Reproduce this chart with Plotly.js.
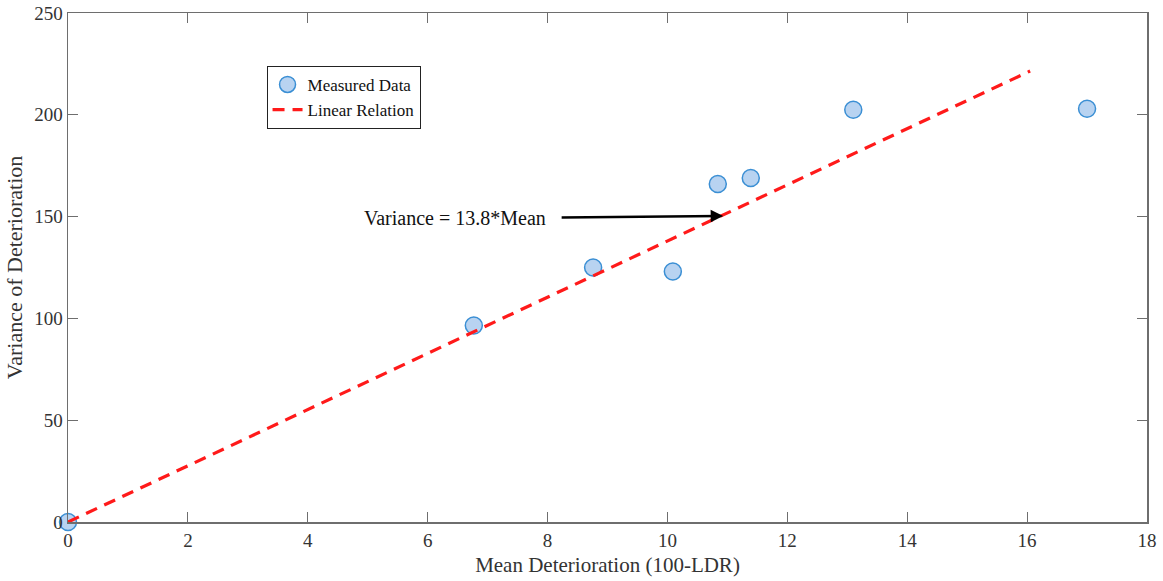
<!DOCTYPE html>
<html>
<head>
<meta charset="utf-8">
<script src="https://cdn.plot.ly/plotly-3.0.1.min.js"></script>
<style>html,body{margin:0;padding:0;background:#fff;}#chart{width:1163px;height:581px;}</style>
</head>
<body>
<div id="chart"></div>
<script>
// Measured data
const meanDet = [0, 6.77, 8.76, 10.09, 10.84, 11.39, 13.10, 17.0];
const varDet  = [0, 96.5, 125, 123, 166, 169, 202.5, 203];
// Linear relation (Variance = 13.8*Mean), endpoints
const lineX = [0, 16.05];
const lineY = [0, 221.5];
// Annotation
const annText = "Variance = 13.8*Mean";
const arrowTail = [8.21, 149.5];
const arrowHead = [10.93, 150.3];
const xTicks = [0, 2, 4, 6, 8, 10, 12, 14, 16, 18];
const yTicks = [0, 50, 100, 150, 200, 250];

const fontFam = "Liberation Serif, Times New Roman, serif";
const axisCol = "#6e6e6e";

const markerTrace = {
  x: meanDet, y: varDet, mode: "markers", name: "Measured Data",
  marker: {size: 17, color: "#b8d3f1", line: {color: "#3b8fd4", width: 1.5}},
  legendrank: 1, cliponaxis: false
};
const lineTrace = {
  x: lineX, y: lineY, mode: "lines", name: "Linear Relation",
  line: {color: "#ff1a1a", width: 3.2, dash: "12px,8px"},
  legendrank: 2, cliponaxis: false
};
const data = [markerTrace, lineTrace];

const axisCommon = {
  showline: true, linecolor: axisCol, linewidth: 1.5, mirror: "allticks",
  ticks: "inside", ticklen: 10, tickwidth: 1, tickcolor: axisCol,
  showgrid: false, zeroline: false,
  tickfont: {family: fontFam, size: 19, color: "#333"}
};

const layout = {
  width: 1163, height: 581,
  margin: {l: 68, r: 16, t: 13, b: 59},
  paper_bgcolor: "#fff", plot_bgcolor: "#fff",
  showlegend: true,
  legend: {
    x: 0.184, y: 0.896, xanchor: "left", yanchor: "top",
    bordercolor: "#222", borderwidth: 1, bgcolor: "#fff",
    font: {family: fontFam, size: 17, color: "#111"},
    itemwidth: 30, tracegroupgap: 0, traceorder: "normal"
  },
  xaxis: Object.assign({}, axisCommon, {
    range: [0, 18], tickvals: xTicks, ticklabelstandoff: 1,
    title: {text: "Mean Deterioration (100-LDR)", font: {family: fontFam, size: 21, color: "#333"}, standoff: 7}
  }),
  yaxis: Object.assign({}, axisCommon, {
    range: [0, 250], tickvals: yTicks,
    title: {text: "Variance of Deterioration", font: {family: fontFam, size: 22, color: "#333"}, standoff: 5}
  }),
  annotations: [
    {
      x: arrowHead[0], y: arrowHead[1], ax: arrowTail[0], ay: arrowTail[1],
      xref: "x", yref: "y", axref: "x", ayref: "y",
      text: "", showarrow: true, arrowhead: 2, arrowsize: 1, arrowwidth: 2.5, arrowcolor: "#000"
    },
    {
      x: arrowTail[0], y: arrowTail[1], xref: "x", yref: "y", xanchor: "right", xshift: -12,
      text: annText, showarrow: false,
      font: {family: fontFam, size: 20, color: "#111"}
    }
  ]
};

Plotly.newPlot("chart", data, layout, {displayModeBar: false, staticPlot: true});
</script>
</body>
</html>
